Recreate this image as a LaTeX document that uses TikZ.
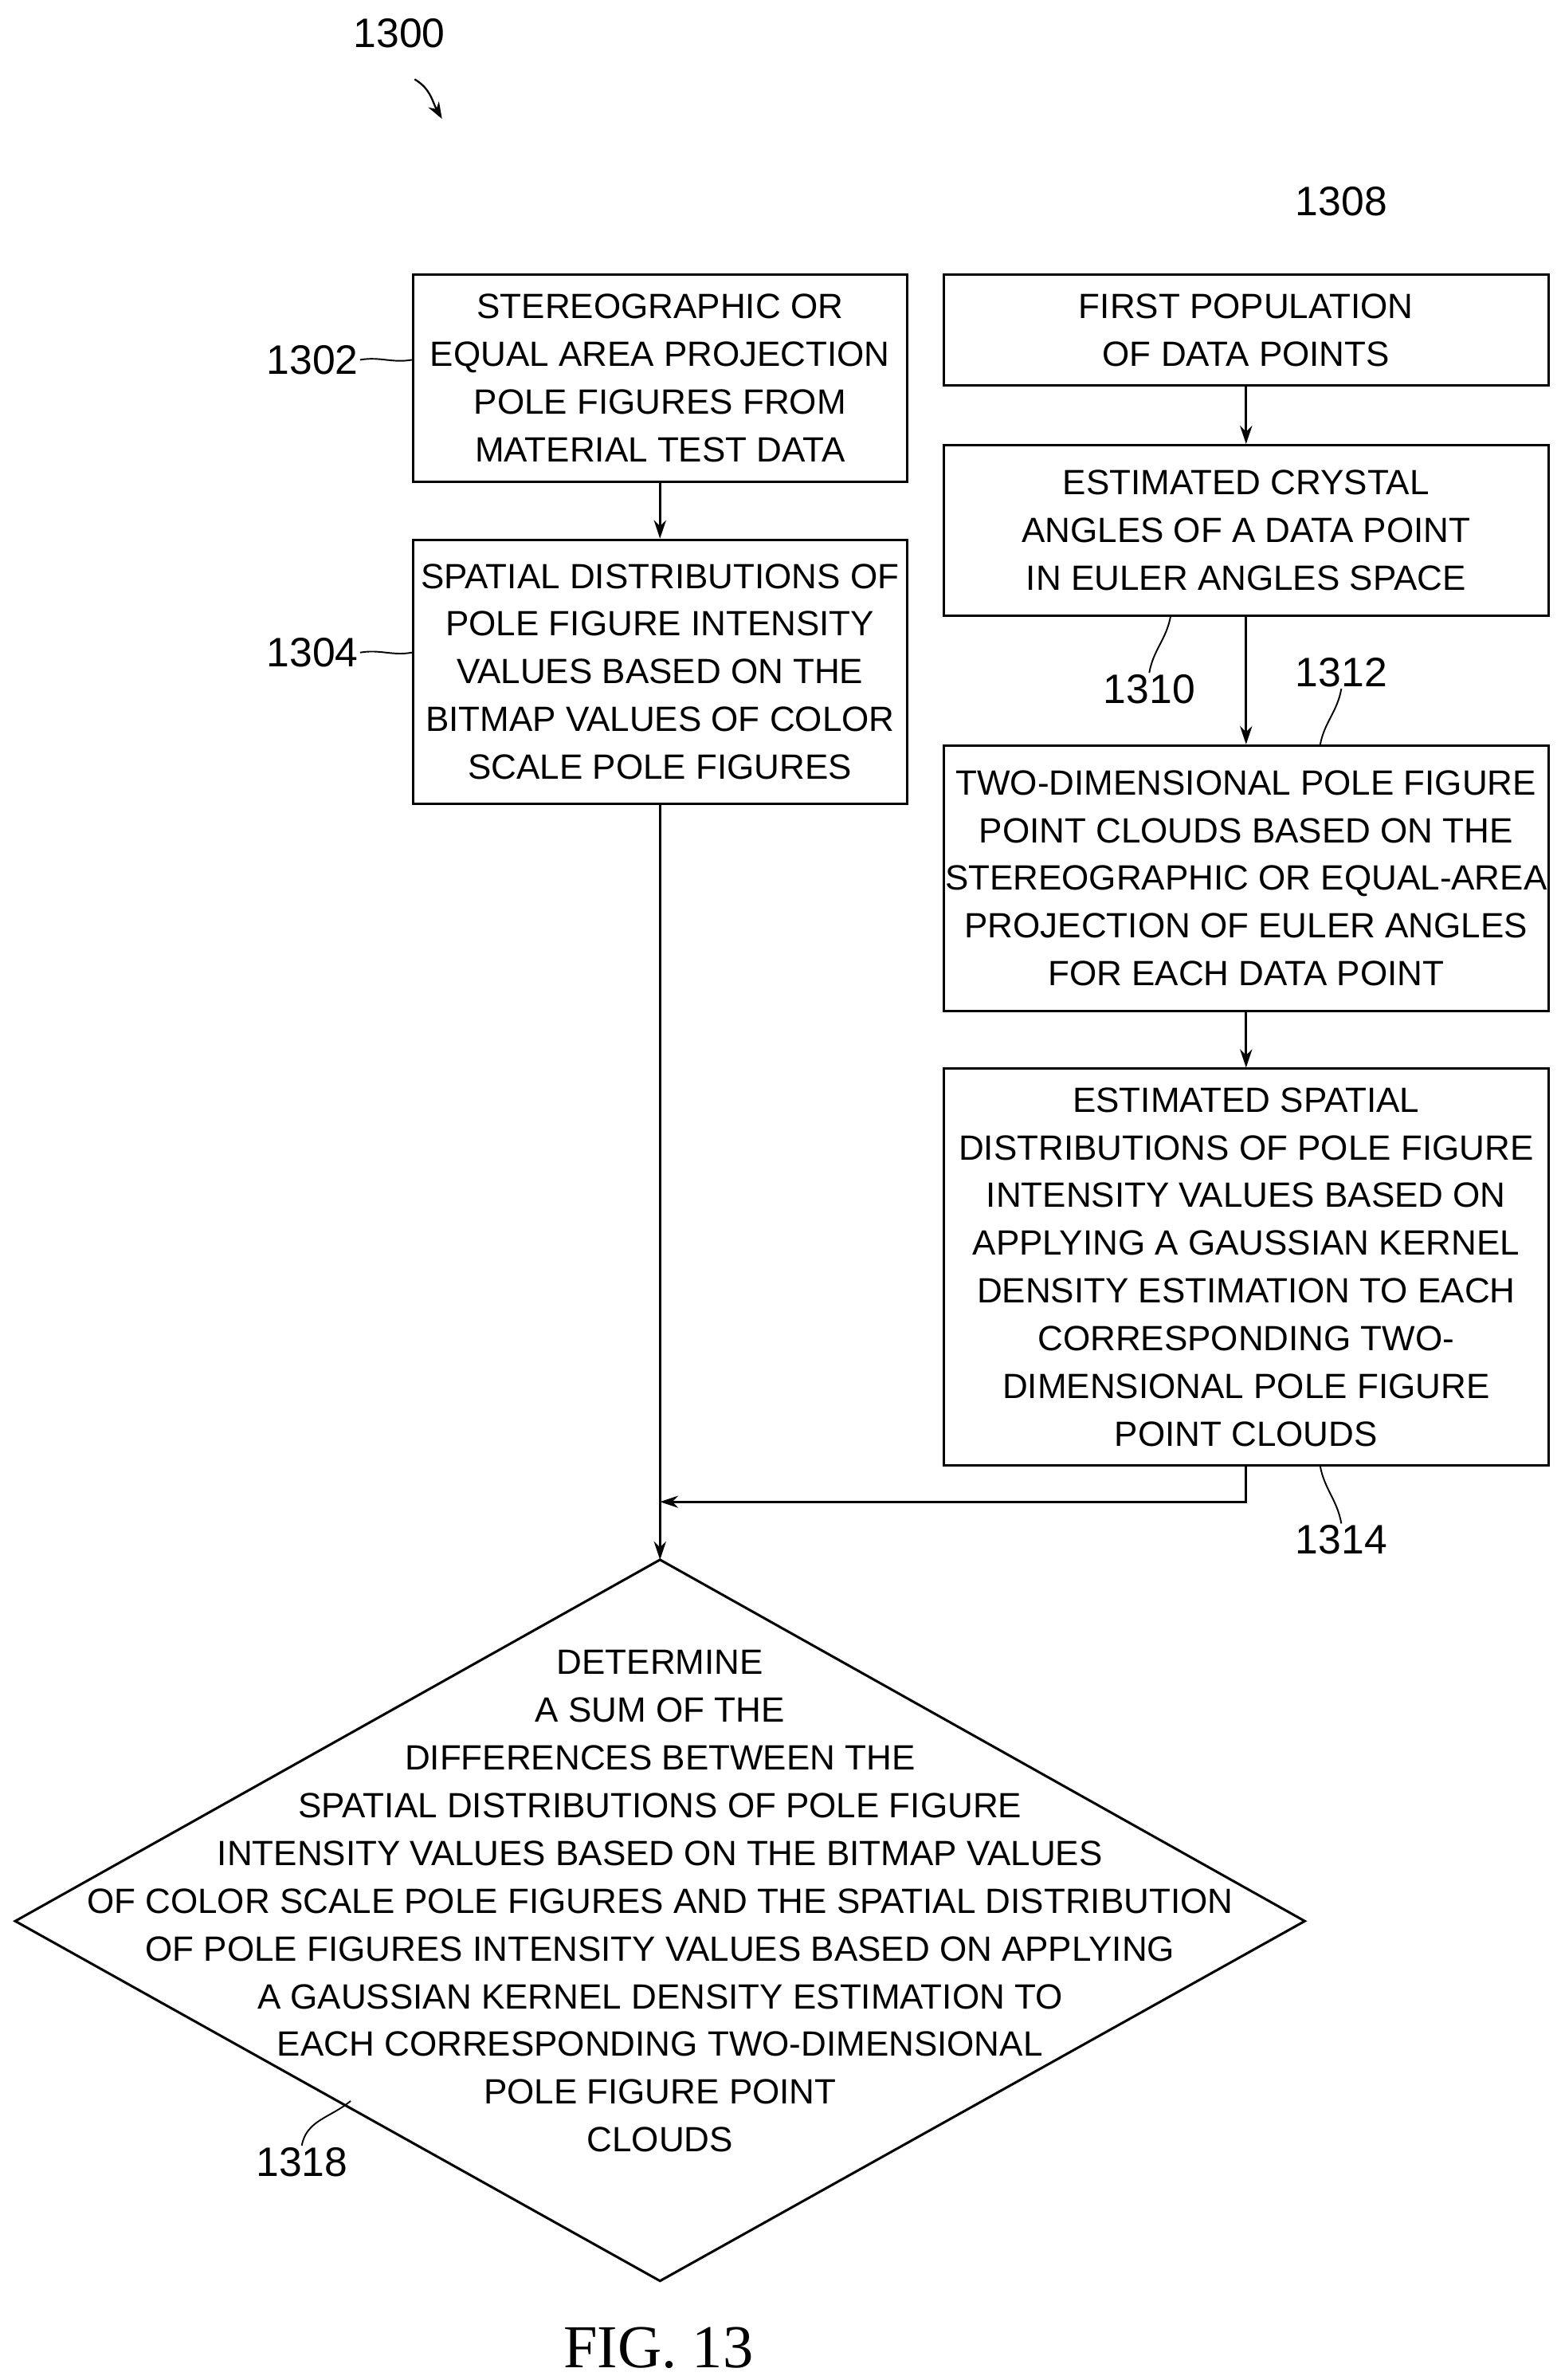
\documentclass[tikz,border=0pt]{standalone}
\usepackage{fontspec}
\usetikzlibrary{arrows.meta}
\setmainfont{Liberation Sans}
\newfontfamily\figfont{Liberation Serif}
\begin{document}
\begin{tikzpicture}[x=1pt,y=-1pt,
  box/.style={draw,line width=1.6pt,align=center,inner sep=0pt,font=\fontsize{23}{31.3}\selectfont},
  lab/.style={font=\fontsize{27}{30}\selectfont,inner sep=1pt},
  arr/.style={line width=1.4pt,-{Stealth[length=12pt,width=8pt]}},
  sq/.style={line width=1pt}]
\useasboundingbox (0,0) rectangle (1024,1561);
\node[box,minimum width=324pt,minimum height=136pt] (b1302) at (433,248) {STEREOGRAPHIC OR\\EQUAL AREA PROJECTION\\POLE FIGURES FROM\\MATERIAL TEST DATA};
\node[box,minimum width=324pt,minimum height=173pt] (b1304) at (433,440.5) {SPATIAL DISTRIBUTIONS OF\\POLE FIGURE INTENSITY\\VALUES BASED ON THE\\BITMAP VALUES OF COLOR\\SCALE POLE FIGURES};
\node[box,minimum width=397pt,minimum height=73pt] (b1308) at (817.5,216.5) {FIRST POPULATION\\OF DATA POINTS};
\node[box,minimum width=397pt,minimum height=112pt] (b1310) at (817.5,348) {ESTIMATED CRYSTAL\\ANGLES OF A DATA POINT\\IN EULER ANGLES SPACE};
\node[box,minimum width=397pt,minimum height=174pt] (b1312) at (817.5,576) {TWO-DIMENSIONAL POLE FIGURE\\POINT CLOUDS BASED ON THE\\STEREOGRAPHIC OR EQUAL-AREA\\PROJECTION OF EULER ANGLES\\FOR EACH DATA POINT};
\node[box,minimum width=397pt,minimum height=260pt] (b1314) at (817.5,831) {ESTIMATED SPATIAL\\DISTRIBUTIONS OF POLE FIGURE\\INTENSITY VALUES BASED ON\\APPLYING A GAUSSIAN KERNEL\\DENSITY ESTIMATION TO EACH\\CORRESPONDING TWO-\\DIMENSIONAL POLE FIGURE\\POINT CLOUDS};
% diamond
\coordinate (dt) at (433,1023);
\coordinate (dr) at (856,1260);
\coordinate (db) at (433,1496);
\coordinate (dl) at (10,1260);
\draw[line width=1.6pt] (dt)--(dr)--(db)--(dl)--cycle;
\node[align=center,font=\fontsize{23}{31.3}\selectfont] (d1318) at (433,1247) {DETERMINE\\A SUM OF THE\\DIFFERENCES BETWEEN THE\\SPATIAL DISTRIBUTIONS OF POLE FIGURE\\INTENSITY VALUES BASED ON THE BITMAP VALUES\\OF COLOR SCALE POLE FIGURES AND THE SPATIAL DISTRIBUTION\\OF POLE FIGURES INTENSITY VALUES BASED ON APPLYING\\A GAUSSIAN KERNEL DENSITY ESTIMATION TO\\EACH CORRESPONDING TWO-DIMENSIONAL\\POLE FIGURE POINT\\CLOUDS};
% arrows
\draw[arr] (b1302.south) -- (b1304.north);
\draw[arr] (b1304.south) -- (dt);
\draw[arr] (b1308.south) -- (b1310.north);
\draw[arr] (b1310.south) -- (b1312.north);
\draw[arr] (b1312.south) -- (b1314.north);
\coordinate (j) at (433,985);
\draw[arr] (b1314.south) |- (j);
% labels
\node[lab] (l1300) at (262,22) {1300};
\coordinate (a1300) at (290,78);
\coordinate (s1300) at (272,52);
\draw[line width=1.2pt,-{Stealth[length=11pt,width=8pt]}] (s1300) to[out=-30,in=120] (a1300);
\node[lab] (l1302) at (205,236) {1302};
\draw[sq] (l1302.east) to[out=10,in=190] (b1302.west |- l1302.east);
\node[lab] (l1304) at (205,428) {1304};
\draw[sq] (l1304.east) to[out=10,in=190] (b1304.west |- l1304.east);
\node[lab] (l1308) at (880,132) {1308};
\node[lab] (l1310) at (754,452) {1310};
\coordinate (c1310) at (768,404);
\draw[sq] (l1310.north) to[out=80,in=-100] (c1310);
\node[lab] (l1312) at (880,441) {1312};
\coordinate (c1312) at (866,489);
\draw[sq] (l1312.south) to[out=-100,in=80] (c1312);
\node[lab] (l1314) at (880,1010) {1314};
\coordinate (c1314) at (866,961);
\draw[sq] (l1314.north) to[out=100,in=-80] (c1314);
\node[lab] (l1318) at (198,1418) {1318};
\coordinate (c1318) at (230,1378);
\draw[sq] (l1318.north) to[out=80,in=-140] (c1318);
\node[font=\figfont\fontsize{40}{44}\selectfont] (fig) at (432,1540) {FIG. 13};
\end{tikzpicture}
\end{document}
